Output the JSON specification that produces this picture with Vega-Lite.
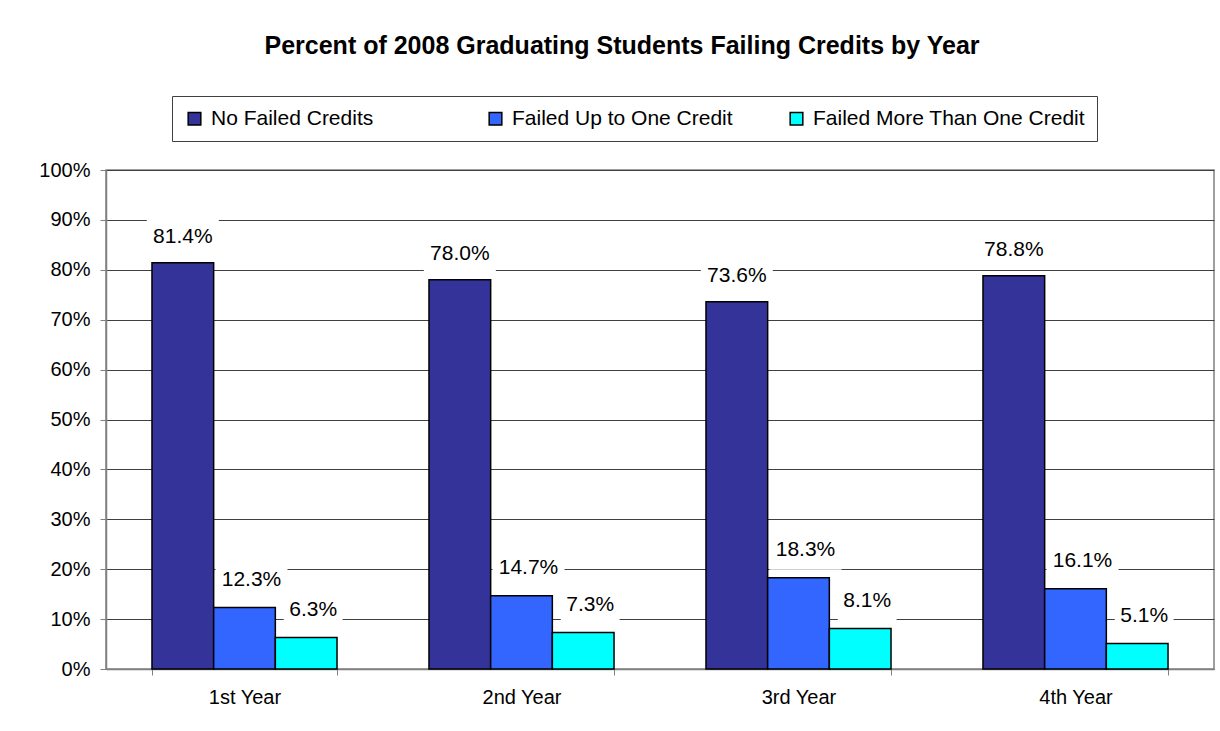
{
  "$schema": "https://vega.github.io/schema/vega-lite/v6.json",
  "width": 1108,
  "height": 499,
  "autosize": {"type": "none"},
  "padding": {"left": 106, "top": 170, "right": 6, "bottom": 62},
  "background": "white",
  "config": {
    "font": "Liberation Sans",
    "view": {"stroke": "#808080", "strokeWidth": 1.5}
  },
  "title": {
    "text": "Percent of 2008 Graduating Students Failing Credits by Year",
    "font": "Liberation Sans",
    "fontSize": 25,
    "fontWeight": "bold",
    "color": "black",
    "anchor": "middle",
    "frame": "group",
    "offset": 37,
    "dx": -38
  },
  "data": {
    "values": [
      {"year": "1st Year", "series": "No Failed Credits", "pct": 0.814},
      {"year": "1st Year", "series": "Failed Up to One Credit", "pct": 0.123},
      {"year": "1st Year", "series": "Failed More Than One Credit", "pct": 0.063},
      {"year": "2nd Year", "series": "No Failed Credits", "pct": 0.780},
      {"year": "2nd Year", "series": "Failed Up to One Credit", "pct": 0.147},
      {"year": "2nd Year", "series": "Failed More Than One Credit", "pct": 0.073},
      {"year": "3rd Year", "series": "No Failed Credits", "pct": 0.736},
      {"year": "3rd Year", "series": "Failed Up to One Credit", "pct": 0.183},
      {"year": "3rd Year", "series": "Failed More Than One Credit", "pct": 0.081},
      {"year": "4th Year", "series": "No Failed Credits", "pct": 0.788},
      {"year": "4th Year", "series": "Failed Up to One Credit", "pct": 0.161},
      {"year": "4th Year", "series": "Failed More Than One Credit", "pct": 0.051}
    ]
  },
  "encoding": {
    "x": {
      "field": "year",
      "type": "nominal",
      "sort": ["1st Year", "2nd Year", "3rd Year", "4th Year"],
      "scale": {"paddingInner": 0.332, "paddingOuter": 0.166},
      "axis": {
        "title": null,
        "labelAngle": 0,
        "labelFontSize": 20,
        "labelColor": "black",
        "labelPadding": 12,
        "tickBand": "extent",
        "tickSize": 6,
        "tickColor": "#808080",
        "domainColor": "#808080",
        "domainWidth": 1.5,
        "grid": false
      }
    },
    "xOffset": {
      "field": "series",
      "type": "nominal",
      "sort": ["No Failed Credits", "Failed Up to One Credit", "Failed More Than One Credit"],
      "scale": {"paddingInner": 0, "paddingOuter": 0}
    },
    "y": {
      "field": "pct",
      "type": "quantitative",
      "scale": {"domain": [0, 1], "nice": false},
      "axis": {
        "title": null,
        "format": ".0%",
        "values": [0, 0.1, 0.2, 0.3, 0.4, 0.5, 0.6, 0.7, 0.8, 0.9, 1],
        "labelFontSize": 20,
        "labelColor": "black",
        "labelPadding": 10,
        "tickSize": 6,
        "tickColor": "#808080",
        "domainColor": "#808080",
        "domainWidth": 1.5,
        "gridColor": "#404040",
        "gridWidth": 1
      }
    }
  },
  "layer": [
    {
      "transform": [{"filter": "datum.series === 'No Failed Credits'"}],
      "mark": {
        "type": "point",
        "shape": "M-1.8,-1H1.8V1H-1.8Z",
        "size": 1600,
        "filled": true,
        "fill": "white",
        "strokeWidth": 0,
        "opacity": 1,
        "yOffset": -26
      }
    },
    {
      "transform": [{"filter": "datum.series !== 'No Failed Credits' && datum.pct >= 0.1"}],
      "mark": {
        "type": "point",
        "shape": "M-1.45,-1H2.15V1H-1.45Z",
        "size": 1600,
        "filled": true,
        "fill": "white",
        "strokeWidth": 0,
        "opacity": 1,
        "yOffset": -28
      }
    },
    {
      "transform": [{"filter": "datum.series !== 'No Failed Credits' && datum.pct < 0.1"}],
      "mark": {
        "type": "point",
        "shape": "M-1.12,-1H1.82V1H-1.12Z",
        "size": 1600,
        "filled": true,
        "fill": "white",
        "strokeWidth": 0,
        "opacity": 1,
        "yOffset": -28
      }
    },
    {
      "mark": {"type": "bar", "stroke": "black", "strokeWidth": 1.5},
      "encoding": {
        "color": {
          "field": "series",
          "type": "nominal",
          "sort": ["No Failed Credits", "Failed Up to One Credit", "Failed More Than One Credit"],
          "scale": {
            "domain": ["No Failed Credits", "Failed Up to One Credit", "Failed More Than One Credit"],
            "range": ["#333399", "#3366FF", "#00FFFF"]
          },
          "legend": {
            "title": null,
            "orient": "none",
            "direction": "horizontal",
            "legendX": 66,
            "legendY": -74,
            "gridAlign": "all",
            "columnPadding": 2,
            "padding": 12,
            "strokeColor": "#404040",
            "fillColor": "white",
            "symbolType": "square",
            "symbolSize": 160,
            "symbolStrokeColor": "black",
            "symbolStrokeWidth": 1.5,
            "symbolOpacity": 1,
            "labelFontSize": 21,
            "labelColor": "black",
            "labelLimit": 500,
            "labelOffset": 6
          }
        }
      }
    },
    {
      "transform": [{"filter": "datum.series === 'No Failed Credits'"}],
      "mark": {
        "type": "text",
        "baseline": "middle",
        "align": "center",
        "dy": -26,
        "fontSize": 21,
        "fill": "black"
      },
      "encoding": {"text": {"field": "pct", "type": "quantitative", "format": ".1%"}}
    },
    {
      "transform": [{"filter": "datum.series !== 'No Failed Credits'"}],
      "mark": {
        "type": "text",
        "baseline": "middle",
        "align": "center",
        "dy": -28,
        "dx": 7,
        "fontSize": 21,
        "fill": "black"
      },
      "encoding": {"text": {"field": "pct", "type": "quantitative", "format": ".1%"}}
    }
  ]
}
